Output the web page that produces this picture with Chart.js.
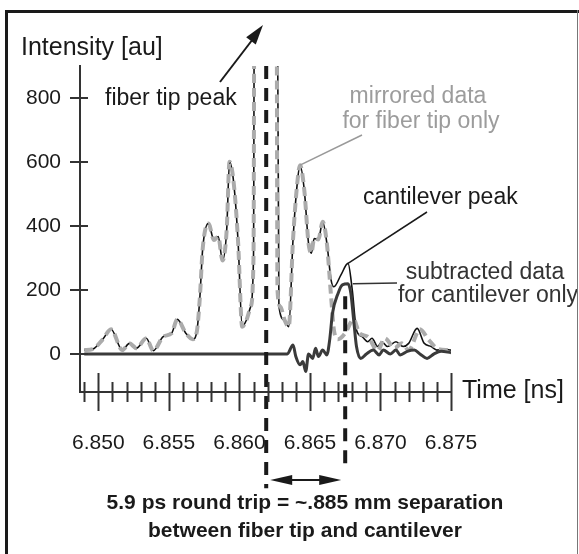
<!DOCTYPE html>
<html>
<head>
<meta charset="utf-8">
<script src="https://cdn.jsdelivr.net/npm/chart.js@4"></script>
<style>
  body { margin: 0; background: #fff; }
  #wrap { position: relative; width: 579px; height: 554px; }
  .edge { position: absolute; pointer-events: none; }
</style>
</head>
<body>
<div id="wrap">
  <canvas id="tofChart" width="579" height="554"></canvas>
  <div class="edge" style="left:5px; top:10px; width:574px; height:3px; background:#1a1a1a;"></div>
  <div class="edge" style="left:5px; top:10px; width:3px; height:544px; background:#1a1a1a;"></div>
  <div class="edge" style="left:577px; top:10px; width:1px; height:544px; background:#777;"></div>
</div>
<script>
// measured signal (off-scale fiber tip peak entered as 2000)
const rawTime = [6.8490, 6.8496, 6.8503, 6.8509, 6.8517, 6.8522, 6.8527, 6.8534, 6.8539, 6.8546,
  6.8552, 6.8556, 6.8562, 6.8567, 6.8570, 6.8572, 6.8574, 6.8578, 6.8582, 6.8585,
  6.8588, 6.8591, 6.8593, 6.8596, 6.8599, 6.8602, 6.8605, 6.8608, 6.8610, 6.8611,
  6.8626, 6.8628, 6.8632, 6.8635, 6.8638, 6.8641, 6.8643, 6.8646, 6.8649, 6.8651,
  6.8653, 6.8656, 6.8659, 6.8662, 6.8665, 6.8667, 6.8672, 6.8677, 6.8680, 6.8683,
  6.8687, 6.8691, 6.8694, 6.8698, 6.8701, 6.8705, 6.8711, 6.8716, 6.8720, 6.8726,
  6.8731, 6.8736, 6.8740, 6.8745, 6.8750];
const rawValues = [12, 15, 45, 77, 12, 33, 18, 49, 10, 54,
  65, 108, 65, 46, 75, 179, 330, 408, 356, 367,
  292, 388, 601, 533, 356, 85, 106, 148, 304, 2000,
  2000, 150, 106, 85, 356, 533, 590, 512, 346, 315,
  361, 358, 413, 346, 231, 210, 247, 283, 200, 75,
  54, 38, 49, 23, 38, 23, 38, 23, 33, 80,
  33, 23, 12, 15, 12];

// mirrored data for fiber tip only
const mirrorTime = [6.8490, 6.8496, 6.8503, 6.8509, 6.8517, 6.8522, 6.8527, 6.8534, 6.8539, 6.8546,
  6.8552, 6.8556, 6.8562, 6.8567, 6.8570, 6.8572, 6.8574, 6.8578, 6.8582, 6.8585,
  6.8588, 6.8591, 6.8593, 6.8596, 6.8599, 6.8602, 6.8605, 6.8608, 6.8610, 6.8611,
  6.8626, 6.8627, 6.8629, 6.8632, 6.8635, 6.8638, 6.8641, 6.8643, 6.8646, 6.8649,
  6.8651, 6.8653, 6.8656, 6.8659, 6.8662, 6.8665, 6.8667, 6.8670, 6.8675, 6.8681,
  6.8685, 6.8691, 6.8698, 6.8703, 6.8710, 6.8715, 6.8720, 6.8728, 6.8734, 6.8741,
  6.8748];
const mirrorValues = [12, 15, 45, 77, 12, 33, 18, 49, 10, 54,
  65, 108, 65, 46, 75, 179, 330, 408, 356, 367,
  292, 388, 601, 533, 356, 85, 106, 148, 304, 2000,
  2000, 200, 148, 106, 85, 356, 533, 590, 512, 346,
  315, 361, 358, 413, 346, 179, 75, 46, 65, 108,
  65, 54, 10, 49, 18, 33, 12, 77, 45, 15,
  12];

// subtracted data for cantilever only
const subTime = [6.8490, 6.8634, 6.8638, 6.8640, 6.8643, 6.8645, 6.8647, 6.8649, 6.8652, 6.8654,
  6.8656, 6.8659, 6.8662, 6.8664, 6.8666, 6.8670, 6.8673, 6.8677, 6.8679, 6.8681,
  6.8683, 6.8686, 6.8690, 6.8695, 6.8699, 6.8702, 6.8707, 6.8711, 6.8714, 6.8719,
  6.8724, 6.8728, 6.8733, 6.8738, 6.8743, 6.8750];
const subValues = [0, 0, 28, -8, -34, -24, -55, 0, -14, 18,
  -8, 12, -3, 44, 127, 190, 216, 219, 190, 106,
  23, -14, 0, 12, -3, 12, 0, 12, -3, 8,
  12, 0, -14, 0, 8, 4];

// peak positions (fiber tip, cantilever) and the span between them
const markerTimes = [6.8619, 6.8675];
const markerTop = [900, 180];
const markerBottom = [-420, -368];
const spanLevel = -394;

const yTicks = [0, 200, 400, 600, 800];
const xTicks = [6.850, 6.855, 6.860, 6.865, 6.870, 6.875];
const xTickLabels = ['6.850', '6.855', '6.860', '6.865', '6.870', '6.875'];

const FONT = '"Liberation Sans", Arial, sans-serif';

function pts(ts, vs) {
  return ts.map((t, i) => ({ x: t, y: vs[i] }));
}

const decor = {
  id: 'decor',
  afterDraw(chart) {
    const { ctx } = chart;
    const x = chart.scales.x;
    const y = chart.scales.y;
    ctx.save();

    // ticks crossing the axes
    ctx.strokeStyle = '#333';
    ctx.lineWidth = 2;
    const ax = y.getPixelForValue(y.min);
    for (let i = 0; i <= 26; i++) {
      const t = 6.849 + i * 0.001;
      const px = Math.round(x.getPixelForValue(t)) + 0.5;
      const h = (i - 1) % 5 === 0 ? 19 : 10;
      ctx.beginPath();
      ctx.moveTo(px, ax - h);
      ctx.lineTo(px, ax + h);
      ctx.stroke();
    }
    yTicks.forEach(v => {
      const py = Math.round(y.getPixelForValue(v));
      ctx.beginPath();
      ctx.moveTo(x.left - 10, py);
      ctx.lineTo(x.left + 8, py);
      ctx.stroke();
    });

    function arrowHead(tx, ty, ang, len, half) {
      ctx.beginPath();
      ctx.moveTo(tx, ty);
      ctx.lineTo(tx - len * Math.cos(ang) + half * Math.sin(ang), ty - len * Math.sin(ang) - half * Math.cos(ang));
      ctx.lineTo(tx - len * Math.cos(ang) - half * Math.sin(ang), ty - len * Math.sin(ang) + half * Math.cos(ang));
      ctx.closePath();
      ctx.fill();
    }

    // double arrow between the two peaks
    const x1 = x.getPixelForValue(markerTimes[0]) + 4;
    const x2 = x.getPixelForValue(markerTimes[1]) - 4;
    const ya = y.getPixelForValue(spanLevel);
    ctx.strokeStyle = '#1a1a1a';
    ctx.fillStyle = '#1a1a1a';
    ctx.lineWidth = 2;
    ctx.beginPath();
    ctx.moveTo(x1 + 10, ya);
    ctx.lineTo(x2 - 10, ya);
    ctx.stroke();
    arrowHead(x1, ya, Math.PI, 22, 5);
    arrowHead(x2, ya, 0, 22, 5);

    // arrow to the off-scale fiber tip peak
    ctx.beginPath();
    ctx.moveTo(220, 82);
    ctx.lineTo(256, 35);
    ctx.stroke();
    arrowHead(263, 25, Math.atan2(25 - 82, 263 - 220), 20, 6);

    // leader lines
    const mp = { x: x.getPixelForValue(6.8643), y: y.getPixelForValue(590) };
    ctx.strokeStyle = '#999';
    ctx.lineWidth = 1.5;
    ctx.beginPath();
    ctx.moveTo(362, 135);
    ctx.lineTo(mp.x, mp.y);
    ctx.stroke();

    const cp = { x: x.getPixelForValue(6.8677), y: y.getPixelForValue(283) };
    ctx.strokeStyle = '#1a1a1a';
    ctx.beginPath();
    ctx.moveTo(427, 212);
    ctx.lineTo(cp.x, cp.y);
    ctx.stroke();

    const sp = { x: x.getPixelForValue(6.8679) + 2, y: y.getPixelForValue(219) };
    ctx.strokeStyle = '#333';
    ctx.beginPath();
    ctx.moveTo(397, 283);
    ctx.lineTo(sp.x, sp.y);
    ctx.stroke();

    // texts
    ctx.textBaseline = 'middle';
    ctx.fillStyle = '#1a1a1a';
    ctx.font = '25px ' + FONT;
    ctx.textAlign = 'left';
    ctx.fillText('Intensity [au]', 21, 48);
    ctx.fillText('Time [ns]', 462, 391);

    ctx.font = '23px ' + FONT;
    ctx.fillText('fiber tip peak', 105, 99);
    ctx.fillText('cantilever peak', 363, 198);

    ctx.fillStyle = '#333';
    ctx.textAlign = 'center';
    ctx.fillText('subtracted data', 485, 273);
    ctx.fillText('for cantilever only', 488, 296);

    ctx.fillStyle = '#9c9c9c';
    ctx.fillText('mirrored data', 418, 97);
    ctx.fillText('for fiber tip only', 421, 122);

    ctx.fillStyle = '#1a1a1a';
    ctx.font = 'bold 21px ' + FONT;
    ctx.fillText('5.9 ps round trip = ~.885 mm separation', 305, 503);
    ctx.fillText('between fiber tip and cantilever', 305, 531);
    ctx.restore();
  }
};

new Chart(document.getElementById('tofChart'), {
  type: 'line',
  data: {
    datasets: [
      {
        label: 'markers',
        data: [
          { x: markerTimes[0], y: markerTop[0] }, { x: markerTimes[0], y: markerBottom[0] }, { x: null, y: null },
          { x: markerTimes[1], y: markerTop[1] }, { x: markerTimes[1], y: markerBottom[1] }
        ],
        borderColor: '#1a1a1a',
        borderWidth: 4,
        borderDash: [13, 9],
        spanGaps: false,
        clip: false,
        order: 0
      },
      {
        label: 'subtracted',
        data: pts(subTime, subValues),
        borderColor: '#3a3a3a',
        borderWidth: 3,
        cubicInterpolationMode: 'monotone',
        order: 1
      },
      {
        label: 'mirrored',
        data: pts(mirrorTime, mirrorValues),
        borderColor: '#ababab',
        borderWidth: 4,
        borderDash: [9, 5],
        cubicInterpolationMode: 'monotone',
        order: 2
      },
      {
        label: 'raw',
        data: pts(rawTime, rawValues),
        borderColor: '#111',
        borderWidth: 1.6,
        cubicInterpolationMode: 'monotone',
        order: 3
      }
    ]
  },
  options: {
    responsive: false,
    animation: false,
    elements: { point: { radius: 0 } },
    layout: { padding: { top: 66, right: 128, left: 0, bottom: 0 } },
    plugins: { legend: { display: false }, tooltip: { enabled: false } },
    scales: {
      x: {
        type: 'linear',
        min: 6.8487,
        max: 6.875,
        grid: { display: false },
        border: { display: true, color: '#333', width: 2 },
        afterBuildTicks: s => { s.ticks = xTicks.map(v => ({ value: v })); },
        afterFit: s => { s.height = 162; },
        ticks: {
          autoSkip: false,
          maxRotation: 0,
          padding: 31,
          color: '#1a1a1a',
          font: { family: FONT, size: 21 },
          callback: (v, i) => xTickLabels[i]
        }
      },
      y: {
        min: -119,
        max: 900,
        grid: { display: false },
        border: { display: true, color: '#333', width: 2 },
        afterBuildTicks: s => { s.ticks = yTicks.map(v => ({ value: v })); },
        afterFit: s => { s.width = 80; },
        ticks: {
          padding: 11,
          color: '#1a1a1a',
          font: { family: FONT, size: 21 }
        }
      }
    }
  },
  plugins: [decor]
});
</script>
</body>
</html>
